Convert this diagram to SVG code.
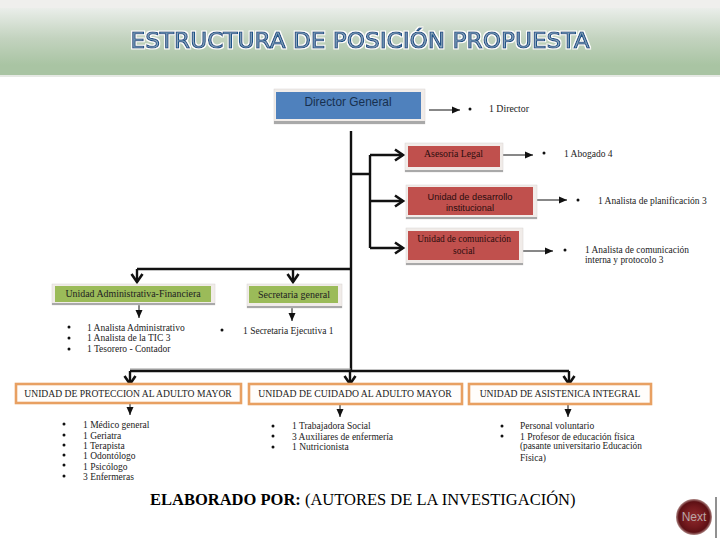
<svg xmlns="http://www.w3.org/2000/svg" width="720" height="540" viewBox="0 0 720 540">
<style>
.s{font-family:"Liberation Serif","Times New Roman",serif;fill:#222}
.t{font-size:9.5px}
.r{fill:#2b0d0d}
.b{font-family:"Liberation Sans",Arial,sans-serif}
.th{fill:none;stroke:#111;stroke-width:2.4}
.tn{fill:none;stroke:#111;stroke-width:1}
.out{fill:#f1ece9;stroke:#d8d4d2;stroke-width:.5}
.shadow{fill:#a9a9a9}
.org{fill:#fffdfb;stroke:#e8a062;stroke-width:2.6}
.dot{fill:#111}
</style>
<defs>
<linearGradient id="ban" x1="0" y1="0" x2="0" y2="1"><stop offset="0" stop-color="#eaeeea"/><stop offset=".45" stop-color="#c3d3bf"/><stop offset=".85" stop-color="#a9c4a3"/><stop offset="1" stop-color="#a9c4a3"/></linearGradient>
<radialGradient id="nx" cx=".5" cy=".5" r=".5"><stop offset="0" stop-color="#8f2a2c"/><stop offset=".55" stop-color="#741a1e"/><stop offset=".85" stop-color="#5d1014"/><stop offset="1" stop-color="#b08a88"/></radialGradient>
<filter id="halo" x="-5%" y="-30%" width="110%" height="160%"><feMorphology in="SourceAlpha" operator="dilate" radius="0.8" result="d"/><feFlood flood-color="#ffffff"/><feComposite in2="d" operator="in" result="w"/><feMerge><feMergeNode in="w"/><feMergeNode in="SourceGraphic"/></feMerge></filter>
<marker id="open" markerUnits="userSpaceOnUse" markerWidth="14" markerHeight="14" refX="11" refY="7" orient="auto"><path d="M3 1.500L11 7L3 12.500" fill="none" stroke="#111" stroke-width="2.600"/></marker>
<marker id="tri" markerUnits="userSpaceOnUse" markerWidth="9" markerHeight="8" refX="8" refY="4" orient="auto"><path d="M0 .5L8 4L0 7.500z" fill="#111"/></marker>
</defs>
<rect width="720" height="540" fill="#fff"/>
<g id="banner">
<rect width="720" height="8" fill="#efefed"/>
<rect y="8" width="720" height="67" fill="url(#ban)"/>
<rect y="75" width="720" height="2" fill="#e6e9e4"/>
<text x="130.500" y="48" font-family="'DejaVu Sans',Verdana,sans-serif" font-size="21.500px" textLength="459" lengthAdjust="spacingAndGlyphs" fill="#8fa9bd" stroke="#1f5288" stroke-width="1.100" filter="url(#halo)">ESTRUCTURA DE POSICIÓN PROPUESTA</text>
</g>
<g id="connectors">
<path class="th" d="M351 131V371"/>
<path class="th" d="M351 174H370M370 155V248"/>
<path class="th" marker-end="url(#open)" d="M370 155H403"/>
<path class="th" marker-end="url(#open)" d="M370 201H403"/>
<path class="th" marker-end="url(#open)" d="M370 248H403"/>
<path class="th" d="M351 269H137"/>
<path class="th" marker-end="url(#open)" d="M137 269V282"/>
<path class="th" marker-end="url(#open)" d="M293 269V282"/>
<path d="M130 369H351" stroke="#999" stroke-width="1" fill="none"/>
<path class="th" d="M130 371H569"/>
<path class="th" marker-end="url(#open)" d="M130 371V384"/>
<path class="th" marker-end="url(#open)" d="M350 371V384"/>
<path class="th" marker-end="url(#open)" d="M569 371V384"/>
<path class="tn" marker-end="url(#tri)" d="M429 110H460"/>
<path class="tn" marker-end="url(#tri)" d="M503 155H533"/>
<path class="tn" marker-end="url(#tri)" d="M537 200H567"/>
<path class="tn" marker-end="url(#tri)" d="M523 251H553"/>
<path class="tn" marker-end="url(#tri)" d="M139 305V318"/>
<path class="tn" marker-end="url(#tri)" d="M292 308V321"/>
<path class="tn" marker-end="url(#tri)" d="M130 403V415"/>
<path class="tn" marker-end="url(#tri)" d="M340 404V417"/>
<path class="tn" marker-end="url(#tri)" d="M568 404V417"/>
</g>
<g id="n-director">
<rect x="274" y="89" width="151" height="35" class="out"/><rect x="274" y="121" width="151" height="3" class="shadow"/>
<rect x="276" y="92" width="145" height="27" fill="#4f81bd"/>
<text x="348" y="106" class="b" font-size="11.900px" text-anchor="middle" fill="#17304f">Director General</text>
<circle cx="470" cy="109" r="1.500" class="dot"/>
<text x="489" y="112" class="s" font-size="9.800px">1 Director</text>
</g>
<g id="n-asesoria">
<rect x="405" y="143" width="98" height="29" class="out"/><rect x="405" y="170" width="98" height="2" class="shadow"/>
<rect x="408" y="146" width="92" height="21" fill="#c0504d"/>
<text x="424" y="157" class="s r" font-size="9.800px">Asesoría Legal</text>
<circle cx="544" cy="153" r="1.500" class="dot"/>
<text x="564" y="157" class="s t">1 Abogado 4</text>
</g>
<g id="n-desarrollo">
<rect x="406" y="185" width="131" height="34" class="out"/><rect x="406" y="217" width="131" height="2" class="shadow"/>
<rect x="408" y="187" width="125" height="28" fill="#c0504d"/>
<text x="470" y="200" class="b r" font-size="9.200px" text-anchor="middle">Unidad de desarrollo</text>
<text x="470" y="211" class="b r" font-size="9.200px" text-anchor="middle">institucional</text>
<circle cx="578" cy="200" r="1.500" class="dot"/>
<text x="598" y="204" class="s t">1 Analista de planificación 3</text>
</g>
<g id="n-comunicacion">
<rect x="406" y="228" width="117" height="37" class="out"/><rect x="406" y="263" width="117" height="2" class="shadow"/>
<rect x="408" y="231" width="111" height="29" fill="#c0504d"/>
<text x="464" y="242" class="s r" font-size="9.400px" text-anchor="middle">Unidad de comunicación</text>
<text x="464" y="254" class="s r" font-size="9.400px" text-anchor="middle">social</text>
<circle cx="565" cy="250" r="1.500" class="dot"/>
<text x="585" y="253" class="s" font-size="9.400px">1 Analista de comunicación</text>
<text x="585" y="263" class="s" font-size="9.400px">interna y protocolo 3</text>
</g>
<g id="n-administrativa">
<rect x="52" y="284" width="163" height="21" class="out"/><rect x="52" y="303" width="163" height="2" class="shadow"/>
<rect x="55" y="286" width="156" height="16" fill="#9bbb59"/>
<text x="133" y="297" class="s" font-size="9.900px" text-anchor="middle">Unidad Administrativa-Financiera</text>
<circle cx="69" cy="327" r="1.500" class="dot"/><circle cx="69" cy="338" r="1.500" class="dot"/><circle cx="69" cy="349" r="1.500" class="dot"/>
<text x="87" y="331" class="s t">1 Analista Administrativo</text>
<text x="87" y="341" class="s t">1 Analista de la TIC 3</text>
<text x="87" y="352" class="s t">1 Tesorero - Contador</text>
</g>
<g id="n-secretaria">
<rect x="247" y="284" width="95" height="24" class="out"/><rect x="247" y="306" width="95" height="2" class="shadow"/>
<rect x="249" y="286" width="89" height="17" fill="#9bbb59"/>
<text x="294" y="298" class="s" font-size="10px" text-anchor="middle">Secretaria general</text>
<circle cx="222" cy="330" r="1.500" class="dot"/>
<text x="243" y="334" class="s t">1 Secretaria Ejecutiva 1</text>
</g>
<g id="n-proteccion">
<rect x="16" y="384" width="225" height="19" class="org"/>
<text x="128" y="397" class="s" font-size="9.600px" text-anchor="middle">UNIDAD DE PROTECCION AL ADULTO MAYOR</text>
<circle cx="64" cy="424" r="1.500" class="dot"/><circle cx="64" cy="435" r="1.500" class="dot"/><circle cx="64" cy="445" r="1.500" class="dot"/><circle cx="64" cy="455" r="1.500" class="dot"/><circle cx="64" cy="465" r="1.500" class="dot"/><circle cx="64" cy="476" r="1.500" class="dot"/>
<text x="83" y="428" class="s t">1 Médico general</text>
<text x="83" y="439" class="s t">1 Geriatra</text>
<text x="83" y="449" class="s t">1 Terapista</text>
<text x="83" y="459" class="s t">1 Odontólogo</text>
<text x="83" y="470" class="s t">1 Psicólogo</text>
<text x="83" y="480" class="s t">3 Enfermeras</text>
</g>
<g id="n-cuidado">
<rect x="249" y="384" width="213" height="20" class="org"/>
<text x="355" y="397" class="s" font-size="9.700px" text-anchor="middle">UNIDAD DE CUIDADO AL ADULTO MAYOR</text>
<circle cx="273" cy="426" r="1.500" class="dot"/><circle cx="273" cy="436" r="1.500" class="dot"/><circle cx="273" cy="447" r="1.500" class="dot"/>
<text x="292" y="429" class="s t">1 Trabajadora Social</text>
<text x="292" y="440" class="s t">3 Auxiliares de enfermería</text>
<text x="292" y="450" class="s t">1 Nutricionista</text>
</g>
<g id="n-asistencia">
<rect x="469" y="384" width="182" height="20" class="org"/>
<text x="560" y="397" class="s" font-size="9.600px" text-anchor="middle">UNIDAD DE ASISTENICA INTEGRAL</text>
<circle cx="502" cy="426" r="1.500" class="dot"/><circle cx="502" cy="436" r="1.500" class="dot"/>
<text x="520" y="429" class="s t">Personal voluntario</text>
<text x="520" y="440" class="s t">1 Profesor de educación física</text>
<text x="520" y="449" class="s" font-size="9.300px">(pasante universitario Educación</text>
<text x="520" y="461" class="s t">Física)</text>
</g>
<g id="footer">
<text x="150" y="505" font-family="'Liberation Serif','Times New Roman',serif" font-size="16.500px" fill="#000"><tspan font-weight="bold">ELABORADO POR:</tspan> (AUTORES DE LA INVESTIGACIÓN)</text>
</g>
<g id="n-next">
<circle cx="694" cy="517" r="18" fill="url(#nx)"/>
<text x="694" y="521" font-family="'Liberation Sans',Arial,sans-serif" font-size="12px" text-anchor="middle" fill="#b9a6a6">Next</text>
<path d="M716 497V538" stroke="#222" stroke-width="1" fill="none"/>
</g>
</svg>
